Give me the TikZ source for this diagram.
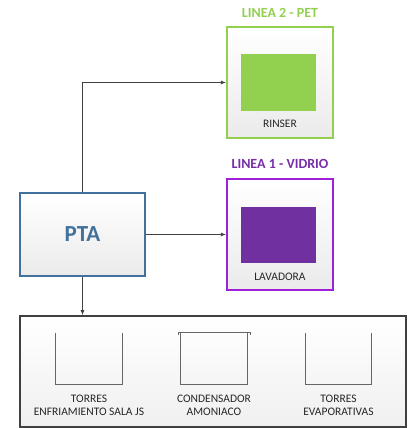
\documentclass[tikz,border=0pt]{standalone}
\usepackage{fontspec}
\setmainfont{Carlito}
\usetikzlibrary{arrows.meta,positioning,calc}
\definecolor{pgreen}{HTML}{92D050}
\definecolor{ppurple}{HTML}{7030A0}
\definecolor{pborder}{HTML}{A020D8}
\definecolor{pblue}{HTML}{41719C}
\definecolor{dgray}{HTML}{404040}
\tikzset{
  panel/.style={draw, line width=2.2pt, top color=white, bottom color=black!8, minimum width=106pt, minimum height=111pt, inner sep=0pt},
  inner/.style={draw=none, minimum width=75pt, minimum height=56pt, inner sep=0pt},
  lbl/.style={font=\fontsize{11.5}{13.5}\selectfont, text=black!85, align=center, inner sep=0pt},
  ttl/.style={font=\fontsize{14}{16}\selectfont\bfseries, inner sep=0pt},
  conn/.style={draw=dgray, line width=0.8pt, -{Latex[length=5pt,width=4pt]}},
  cupbox/.style={minimum width=66pt, minimum height=51pt, inner sep=0pt},
  cupline/.style={draw=black!60, line width=0.9pt}
}
\begin{document}
\begin{tikzpicture}[x=1pt,y=-1pt]
\useasboundingbox (0,0) rectangle (408,428);
% right panels
\node[panel, draw=pgreen] (green) at (280,82.5) {};
\node[inner, fill=pgreen] (greenin) at (278.5,82.5) {};
\node[lbl] (rinser) at (280,124) {RINSER};
\node[ttl, text=pgreen] (t2) at (280,13) {LINEA 2 - PET};
\node[panel, draw=pborder] (purple) at (280,234.5) {};
\node[inner, fill=ppurple] (purplein) at (278.5,235) {};
\node[lbl] (lavadora) at (280,277) {LAVADORA};
\node[ttl, text=ppurple!85!pborder] (t1) at (280,164) {LINEA 1 - VIDRIO};
% PTA
\node[draw=pblue, line width=2.2pt, top color=white, bottom color=black!8, minimum width=125pt, minimum height=83pt, inner sep=0pt, font=\fontsize{23}{27}\selectfont\bfseries, text=pblue] (pta) at (82.5,234.5) {PTA};
% bottom box
\node[draw=dgray, line width=1.6pt, top color=white, bottom color=black!6, minimum width=386pt, minimum height=111pt, inner sep=0pt] (bottom) at (213,371.5) {};
% cups
\node[cupbox] (c1) at (89,358.5) {};
\node[cupbox] (c2) at (214,358.5) {};
\node[cupbox] (c3) at (338.5,358.5) {};
\draw[cupline] (c1.north west) |- (c1.south) -| (c1.north east);
\draw[cupline] (c2.north west) |- (c2.south) -| (c2.north east);
\draw[cupline] (c3.north west) |- (c3.south) -| (c3.north east);
\coordinate (b1) at (178,335);
\coordinate (b2) at (250,335);
\draw[cupline, line width=0.8pt] (b1) -- ++(0,-3) -| (b2);
\node[lbl] (l1) at (89,405.5) {TORRES\\ENFRIAMIENTO SALA JS};
\node[lbl] (l2) at (214,405.5) {CONDENSADOR\\AMONIACO};
\node[lbl] (l3) at (338.5,405.5) {TORRES\\EVAPORATIVAS};
% connectors
\draw[conn] (pta.north) |- (green.west);
\draw[conn] (pta.east) -- (purple.west);
\draw[conn] (pta.south) -- (pta.south |- bottom.north);
\end{tikzpicture}
\end{document}
